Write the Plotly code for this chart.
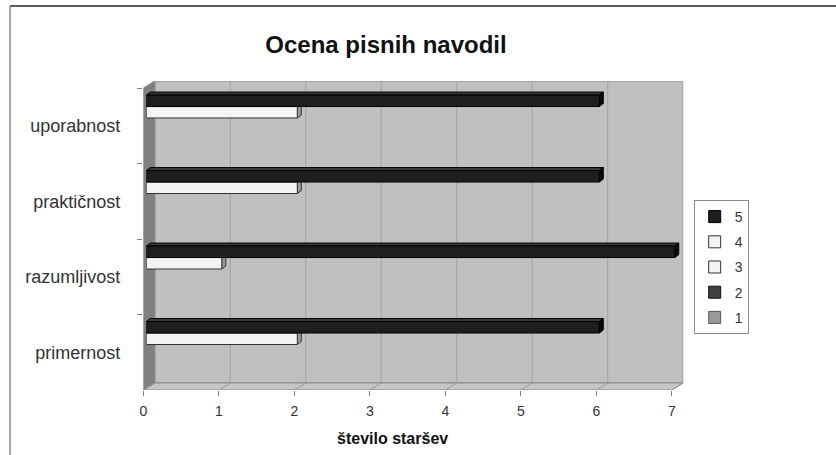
import plotly.graph_objects as go

# ---- data -------------------------------------------------------------
categories = ["primernost", "razumljivost", "praktičnost", "uporabnost"]
series_names = ["1", "2", "3", "4", "5"]
values_1 = [0, 0, 0, 0]
values_2 = [0, 0, 0, 0]
values_3 = [0, 0, 0, 0]
values_4 = [2, 1, 2, 2]
values_5 = [6, 7, 6, 6]
x_ticks = [0, 1, 2, 3, 4, 5, 6, 7]

series_values = [values_1, values_2, values_3, values_4, values_5]
fill_colors = ["#9a9a9a", "#404040", "#f4f4f4", "#f4f4f4", "#1e1e1e"]
line_colors = ["#555555", "#111111", "#333333", "#333333", "#000000"]
top_colors = ["#b0b0b0", "#555555", "#ffffff", "#ffffff", "#3a3a3a"]
side_colors = ["#707070", "#222222", "#9a9a9a", "#9a9a9a", "#0a0a0a"]

# ---- geometry of the pseudo 3-D box (pixels) --------------------------
W, H = 836, 455
FX0, FX1 = 140, 671          # front plane: x = 0 .. x = max tick
FY0, FY1 = 88, 390           # front plane: top .. bottom
DX, DY = 11.5, 7             # depth of the box (to the back wall)
BX, BY = 3, 2                # bar plane offset from the front plane
BDX, BDY = 4, 3              # depth of each bar

xmax = x_ticks[-1]
n = len(categories)
ppx = (FX1 - FX0) / xmax     # pixels per x unit
ppy = (FY1 - FY0) / n        # pixels per category
dxu, dyu = DX / ppx, DY / ppy
bdxu, bdyu = BDX / ppx, BDY / ppy
x_range = [0, xmax + dxu]
y_range = [-0.5, n - 0.5 + dyu]

BARGAP = 0.24
bar_w = (1 - BARGAP) / len(series_names)


def path(points):
    return "M " + " L ".join(f"{x},{y}" for x, y in points) + " Z"


fig = go.Figure()

# invisible helper so the front category axis knows its categories
fig.add_trace(go.Scatter(x=[0] * n, y=categories, mode="markers",
                         marker=dict(opacity=0), showlegend=False,
                         hoverinfo="skip", xaxis="x", yaxis="y"))

# the bars (zero-length bars get no outline so they stay invisible)
pos = list(range(n))
for name, vals, fc, lc in zip(series_names, series_values, fill_colors, line_colors):
    fig.add_trace(go.Bar(
        name=name, x=vals, y=pos, orientation="h",
        marker=dict(color=fc, line=dict(color=lc, width=[1 if v else 0 for v in vals])),
        xaxis="x2", yaxis="y2", legendgroup=name, showlegend=False,
    ))

# legend entries, listed from 5 down to 1
for name, fc, lc in reversed(list(zip(series_names, fill_colors, line_colors))):
    fig.add_trace(go.Bar(
        name=name, x=[None], y=[None], orientation="h",
        marker=dict(color=fc, line=dict(color=lc, width=1)),
        xaxis="x", yaxis="y", legendgroup=name, showlegend=True, hoverinfo="skip",
    ))

shapes = []
lo, top = y_range[0], n - 0.5

# back wall
shapes.append(dict(type="path", xref="x", yref="y", layer="below",
                   path=path([(dxu, lo + dyu), (xmax + dxu, lo + dyu),
                              (xmax + dxu, top + dyu), (dxu, top + dyu)]),
                   fillcolor="#c0c0c0", line=dict(color="#9a9a9a", width=1.5)))
# grid lines on the back wall
for t in x_ticks[1:-1]:
    shapes.append(dict(type="line", xref="x", yref="y", layer="below",
                       x0=t + dxu, x1=t + dxu, y0=lo + dyu, y1=top + dyu,
                       line=dict(color="#a2a2a2", width=1)))
# floor
shapes.append(dict(type="path", xref="x", yref="y", layer="below",
                   path=path([(0, lo), (xmax, lo), (xmax + dxu, lo + dyu), (dxu, lo + dyu)]),
                   fillcolor="#c6c6c6", line=dict(color="#8a8a8a", width=1)))
for t in x_ticks[1:]:
    shapes.append(dict(type="line", xref="x", yref="y", layer="below",
                       x0=t, x1=t + dxu, y0=lo, y1=lo + dyu,
                       line=dict(color="#9a9a9a", width=1)))
# left side wall
shapes.append(dict(type="path", xref="x", yref="y", layer="below",
                   path=path([(0, lo), (dxu, lo + dyu), (dxu, top + dyu), (0, top)]),
                   fillcolor="#808080", line=dict(color="#8a8a8a", width=1)))

# bar depth faces (top and end), from the same values as the bars
for k, (vals, tc, sc, lc) in enumerate(zip(series_values, top_colors, side_colors, line_colors)):
    for i, v in enumerate(vals):
        if v == 0:
            continue
        yb = pos[i] - (1 - BARGAP) / 2 + k * bar_w
        yt = yb + bar_w
        shapes.append(dict(type="path", xref="x2", yref="y2", layer="below",
                           path=path([(0, yt), (v, yt), (v + bdxu, yt + bdyu), (bdxu, yt + bdyu)]),
                           fillcolor=tc, line=dict(color=lc, width=1)))
        shapes.append(dict(type="path", xref="x2", yref="y2", layer="below",
                           path=path([(v, yb), (v + bdxu, yb + bdyu), (v + bdxu, yt + bdyu), (v, yt)]),
                           fillcolor=sc, line=dict(color=lc, width=1)))

# chart frame
shapes.append(dict(type="line", xref="paper", yref="paper", x0=6 / W, x1=1, y0=1 - 6 / H, y1=1 - 6 / H,
                   line=dict(color="#222222", width=1.5)))
shapes.append(dict(type="line", xref="paper", yref="paper", x0=6 / W, x1=6 / W, y0=0, y1=1 - 6 / H,
                   line=dict(color="#888888", width=1.5)))

font_family = "Liberation Sans, Arial, sans-serif"

fig.update_layout(
    width=W, height=H,
    margin=dict(l=0, r=0, t=0, b=0),
    paper_bgcolor="white", plot_bgcolor="rgba(0,0,0,0)",
    font=dict(family=font_family, color="#222222", size=14),
    barmode="group", bargap=BARGAP, bargroupgap=0,
    title=dict(text="<b>Ocena pisnih navodil</b>", x=386 / W, xanchor="center",
               y=1 - 45 / H, yanchor="middle", font=dict(size=24, color="#111111")),
    xaxis=dict(domain=[FX0 / W, (FX1 + DX) / W], range=x_range, anchor="y",
               tickvals=x_ticks, ticks="outside", ticklen=5, tickcolor="#808080",
               showgrid=False, zeroline=False, showline=False,
               ticklabelstandoff=3, tickfont=dict(size=14, color="#333333")),
    yaxis=dict(domain=[1 - FY1 / H, 1 - (FY0 - DY) / H], range=y_range, anchor="x",
               type="category", categoryorder="array", categoryarray=categories,
               tickson="boundaries", ticks="outside", ticklen=5, tickcolor="#808080",
               showgrid=False, zeroline=False, showline=False,
               ticklabelstandoff=22, tickfont=dict(size=18, color="#333333")),
    xaxis2=dict(domain=[(FX0 + BX) / W, (FX1 + DX + BX) / W], range=x_range, anchor="y2",
                visible=False, fixedrange=True),
    yaxis2=dict(domain=[1 - (FY1 - BY) / H, 1 - (FY0 - DY - BY) / H], range=y_range, anchor="x2",
                visible=False, fixedrange=True),
    legend=dict(x=693 / W, y=1 - 200 / H, xanchor="left", yanchor="top",
                traceorder="grouped", tracegroupgap=4,
                bordercolor="#8c8c8c", borderwidth=1, bgcolor="white",
                font=dict(size=14, color="#333333"), itemwidth=30),
    annotations=[dict(text="<b>število staršev</b>", xref="paper", yref="paper",
                      x=390 / W, y=1 - 438 / H, xanchor="center", yanchor="middle",
                      showarrow=False, font=dict(size=16, color="#111111"))],
    shapes=shapes,
    showlegend=True,
)

fig.write_html("out.html")
